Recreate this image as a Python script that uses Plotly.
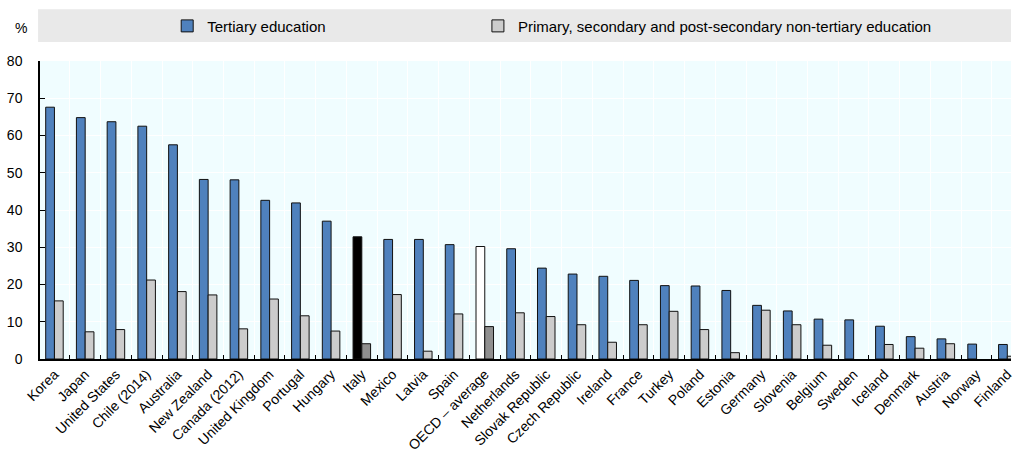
import plotly.graph_objects as go

countries = ["Korea", "Japan", "United States", "Chile (2014)", "Australia", "New Zealand",
             "Canada (2012)", "United Kingdom", "Portugal", "Hungary", "Italy", "Mexico",
             "Latvia", "Spain", "OECD – average", "Netherlands", "Slovak Republic",
             "Czech Republic", "Ireland", "France", "Turkey", "Poland", "Estonia", "Germany",
             "Slovenia", "Belgium", "Sweden", "Iceland", "Denmark", "Austria", "Norway", "Finland"]

tertiary = [67.6, 64.8, 63.7, 62.5, 57.5, 48.2, 48.1, 42.6, 41.9, 37.0, 32.8, 32.1,
            32.1, 30.7, 30.2, 29.6, 24.4, 22.8, 22.2, 21.1, 19.7, 19.6, 18.4, 14.4,
            12.9, 10.7, 10.5, 8.8, 6.0, 5.4, 4.0, 3.9]

below_tertiary = [15.6, 7.3, 7.9, 21.2, 18.1, 17.2, 8.1, 16.1, 11.6, 7.5, 4.1, 17.3,
                  2.1, 12.1, 8.7, 12.4, 11.4, 9.2, 4.5, 9.2, 12.8, 7.9, 1.7, 13.1,
                  9.2, 3.7, None, 3.9, 2.9, 4.1, None, 0.75]

BLUE = "#4F81BD"
GREY = "#CCCCCC"

# highlight Italy and the OECD average
tert_colors = [BLUE] * len(countries)
sec_colors = [GREY] * len(countries)
tert_colors[countries.index("Italy")] = "#000000"
tert_colors[countries.index("OECD – average")] = "#FFFFFF"
sec_colors[countries.index("Italy")] = "#8F8F8F"
sec_colors[countries.index("OECD – average")] = "#8F8F8F"

fig = go.Figure()
fig.add_trace(go.Bar(x=countries, y=tertiary, name="Tertiary education", legend="legend",
                     marker=dict(color=tert_colors, line=dict(color="#111111", width=1))))
fig.add_trace(go.Bar(x=countries, y=below_tertiary, legend="legend2",
                     name="Primary, secondary and post-secondary non-tertiary education",
                     marker=dict(color=sec_colors, line=dict(color="#111111", width=1))))

# legend band
fig.add_shape(type="rect", xref="paper", yref="paper", x0=-0.002, x1=1.0,
              y0=1.0635, y1=1.174, fillcolor="#E9E9E9", line=dict(width=0), layer="below")
fig.add_annotation(text="%", xref="paper", yref="paper", x=-0.0195, y=1.11,
                   showarrow=False, xanchor="center", yanchor="middle",
                   font=dict(size=14, color="#000000"))

leg = dict(orientation="h", xanchor="left", y=1.117, yanchor="middle",
           bgcolor="rgba(0,0,0,0)", font=dict(size=15))

fig.update_layout(
    width=1014, height=453,
    margin=dict(l=40, r=0, t=61, b=93),
    paper_bgcolor="white",
    plot_bgcolor="#F0FDFF",
    font=dict(family="Liberation Sans, Arial, sans-serif", color="#000000"),
    barmode="group", bargap=0.43, bargroupgap=0,
    showlegend=True,
    legend=dict(leg, x=0.131),
    legend2=dict(leg, x=0.451),
    xaxis=dict(range=[-0.47, 31.12], tickangle=-45, tickson="boundaries",
               ticks="inside", ticklen=4, tickcolor="#000000",
               showgrid=True, gridcolor="#FFFFFF", gridwidth=1,
               showline=True, linecolor="#000000", linewidth=1.5,
               tickfont=dict(size=14)),
    yaxis=dict(range=[0, 80], dtick=10, ticks="inside", ticklen=5, tickcolor="#000000",
               showgrid=True, gridcolor="#FFFFFF", gridwidth=1,
               showline=True, linecolor="#000000", linewidth=1.5,
               zeroline=False, ticklabelstandoff=13, tickfont=dict(size=14)),
)

fig.write_html("out.html", config={"displayModeBar": False},
               post_script="document.body.style.margin='0';document.body.style.overflow='hidden';")
